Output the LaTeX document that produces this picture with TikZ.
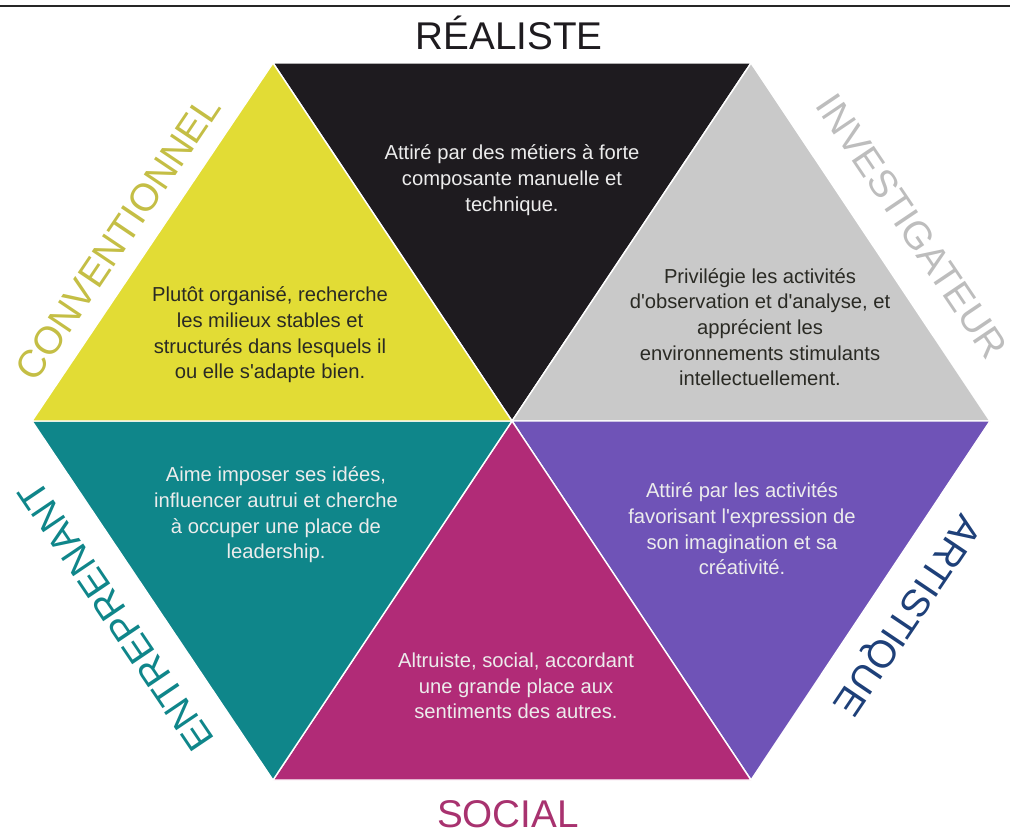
\documentclass[tikz,border=0pt]{standalone}
\usepackage{fontspec}
\setmainfont{Liberation Sans}
\usepackage{xcolor}
\usepackage{tikz}
\usetikzlibrary{calc}
\definecolor{realblack}{HTML}{1E1B1F}
\definecolor{investgray}{HTML}{C9C9C9}
\definecolor{artpurple}{HTML}{6F53B7}
\definecolor{socmagenta}{HTML}{B12B77}
\definecolor{entteal}{HTML}{0F868A}
\definecolor{convyellow}{HTML}{E2DC35}
\definecolor{convlabel}{HTML}{C4BE45}
\definecolor{investlabel}{HTML}{BDBDBD}
\definecolor{artlabel}{HTML}{1E4079}
\definecolor{soclabel}{HTML}{A8326F}
\definecolor{darkink}{HTML}{2A2A24}
\definecolor{lightink}{HTML}{ECECEC}
\newcommand{\ap}{\textquotesingle}
\tikzset{
  hexpart/.style={draw=white,line width=0.8pt,line join=miter},
  parttext/.style={align=center,inner sep=0pt,font=\fontsize{11.5}{14.6}\selectfont},
  sidelabel/.style={inner sep=0pt,font=\fontsize{22}{24}\selectfont},
  topline/.style={draw=black!85,line width=1.1pt},
}

\begin{document}
\begin{tikzpicture}[x=0.02cm,y=-0.02cm]
    \useasboundingbox (0,0) rectangle (1010,833);
    \draw[topline] (0,6) -- (1010,6);
    % hexagon corners
    \coordinate (c) at (512,421);
    \coordinate (tl) at (273,63);
    \coordinate (tr) at (751,63);
    \coordinate (r) at (990,421);
    \coordinate (br) at (751,780);
    \coordinate (bl) at (273,780);
    \coordinate (l) at (32,421);
    % the six triangles
    \path[hexpart,fill=realblack] (tl) -- (tr) -- (c) -- cycle;
    \path[hexpart,fill=investgray] (tr) -- (r) -- (c) -- cycle;
    \path[hexpart,fill=artpurple] (r) -- (br) -- (c) -- cycle;
    \path[hexpart,fill=socmagenta] (br) -- (bl) -- (c) -- cycle;
    \path[hexpart,fill=entteal] (bl) -- (l) -- (c) -- cycle;
    \path[hexpart,fill=convyellow] (l) -- (tl) -- (c) -- cycle;
    % texts inside
    \node[parttext,text=lightink] (realtxt) at (512,180) {Attiré par des métiers à forte\\composante manuelle et\\technique.};
    \node[parttext,text=darkink] (investtxt) at (760,327) {Privilégie les activités\\d\ap observation et d\ap analyse, et\\apprécient les\\environnements stimulants\\intellectuellement.};
    \node[parttext,text=lightink] (arttxt) at (742,529) {Attiré par les activités\\favorisant l\ap expression de\\son imagination et sa\\créativité.};
    \node[parttext,text=lightink] (soctxt) at (516,686) {Altruiste, social, accordant\\une grande place aux\\sentiments des autres.};
    \node[parttext,text=lightink] (enttxt) at (276,515) {Aime imposer ses idées,\\influencer autrui et cherche\\à occuper une place de\\leadership.};
    \node[parttext,text=darkink] (convtxt) at (270,335) {Plutôt organisé, recherche\\les milieux stables et\\structurés dans lesquels il\\ou elle s\ap adapte bien.};
    % names round the hexagon
    \node[sidelabel,text=realblack] (realname) at (509,33) {RÉALISTE};
    \node[sidelabel,text=investlabel,rotate=-56] (investname) at (912,226) {INVESTIGATEUR};
    \node[sidelabel,text=artlabel,rotate=-124] (artname) at (905,614) {ARTISTIQUE};
    \node[sidelabel,text=soclabel] (socname) at (508,814) {SOCIAL};
    \node[sidelabel,text=entteal,rotate=124] (entname) at (116,616) {ENTREPRENANT};
    \node[sidelabel,text=convlabel,rotate=56] (convname) at (118,238) {CONVENTIONNEL};
\end{tikzpicture}
\end{document}
